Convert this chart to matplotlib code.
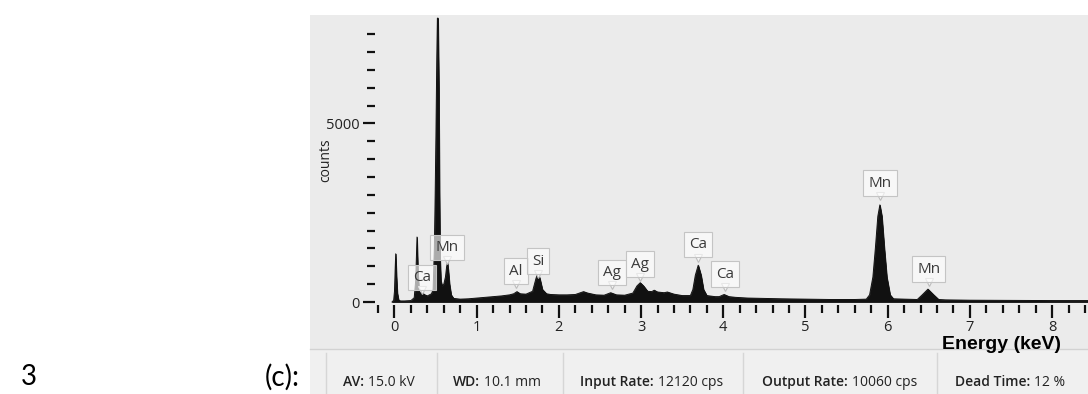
import matplotlib
matplotlib.use("Agg")
import matplotlib.pyplot as plt
from matplotlib.patches import Rectangle
from matplotlib.transforms import offset_copy
import numpy as np

# 스펙트럼 (에너지 keV, counts) - 그림에서 읽은 값
energy = [-0.03, -0.01, 0.0, 0.008, 0.015, 0.025, 0.035, 0.05, 0.07, 0.12, 0.2,
          0.24, 0.258, 0.274, 0.286, 0.3, 0.32, 0.34, 0.37, 0.4, 0.45, 0.47,
          0.485, 0.495, 0.505, 0.515, 0.522, 0.53, 0.54, 0.548, 0.555, 0.565, 0.58,
          0.6, 0.62, 0.635, 0.645, 0.655, 0.67, 0.69, 0.72, 0.8, 0.9, 1.0, 1.1,
          1.2, 1.3, 1.4, 1.45, 1.49, 1.53, 1.6, 1.68, 1.72, 1.745, 1.77, 1.8,
          1.85, 1.9, 2.0, 2.1, 2.2, 2.3, 2.35, 2.45, 2.55, 2.63, 2.7, 2.8, 2.9,
          2.95, 2.99, 3.03, 3.08, 3.13, 3.16, 3.2, 3.28, 3.32, 3.4, 3.5, 3.6,
          3.63, 3.66, 3.695, 3.73, 3.76, 3.8, 3.9, 3.95, 4.01, 4.07, 4.15, 4.3,
          4.5, 4.7, 5.0, 5.3, 5.6, 5.74, 5.78, 5.82, 5.85, 5.88, 5.905, 5.93,
          5.96, 5.99, 6.03, 6.07, 6.2, 6.36, 6.42, 6.49, 6.56, 6.62, 6.7, 7.0,
          7.5, 8.0, 8.44]
counts = [0, 50, 300, 900, 1350, 700, 250, 60, 30, 30, 40,
          120, 600, 1820, 800, 300, 230, 250, 200, 170, 230, 350,
          1500, 3000, 4800, 6900, 7950, 7950, 6000, 3000, 1200, 600, 450,
          500, 700, 1000, 1100, 900, 500, 200, 100, 80, 90, 110, 130,
          150, 170, 200, 230, 290, 230, 220, 300, 650, 820, 650, 350,
          230, 210, 200, 200, 210, 290, 250, 200, 190, 260, 200, 190, 250,
          450, 540, 450, 300, 290, 330, 280, 260, 280, 220, 180, 180,
          350, 750, 1030, 750, 350, 180, 150, 150, 210, 150, 130, 110,
          100, 90, 80, 70, 70, 80, 200, 700, 1500, 2400, 2720, 2400,
          1500, 700, 200, 90, 80, 70, 200, 360, 200, 70, 60, 50,
          45, 40, 40]

# 피크 라벨: 원소, 에너지, 화살표 끝 높이(counts)
peak_names = ["Ca", "Mn", "Al", "Si", "Ag", "Ag", "Ca", "Ca", "Mn", "Mn"]
peak_energy = [0.335, 0.64, 1.48, 1.745, 2.65, 2.99, 3.69, 4.02, 5.906, 6.50]
peak_tip = [250, 1090, 420, 700, 390, 616, 1150, 336, 2885, 476]

status_labels = ["AV:", "WD:", "Input Rate:", "Output Rate:", "Dead Time:"]
status_values = ["15.0 kV", "10.1 mm", "12120 cps", "10060 cps", "12 %"]

W, H = 1088, 394
fig = plt.figure(figsize=(W / 100, H / 100), dpi=100)
fig.patch.set_facecolor("white")
UI = ["Open Sans", "DejaVu Sans"]

# 회색 패널 + 상태바
fig.add_artist(Rectangle((310 / W, (H - 349) / H), (W - 310) / W, 334 / H,
                         transform=fig.transFigure, fc="#ebebeb", ec="none", zorder=0))
fig.add_artist(Rectangle((310 / W, 0), (W - 310) / W, (H - 349) / H,
                         transform=fig.transFigure, fc="#f0f0f0", ec="none", zorder=0))
fig.add_artist(plt.Line2D([310 / W, 1], [(H - 349) / H] * 2, transform=fig.transFigure,
                          color="#d2d2d2", lw=1, zorder=1))

ax = fig.add_axes([375 / W, (H - 305) / H, (W - 375) / W, 290 / H])
ax.set_facecolor("none")
ax.fill_between(energy, counts, 0, color="#111111", lw=0.6, zorder=2)
ax.plot(energy, counts, color="#111111", lw=0.7, zorder=2)
ax.set_xlim(-0.237, 8.437)
ax.set_ylim(-84, 8039)
for s in ax.spines.values():
    s.set_visible(False)

ax.set_xticks(range(0, 9))
ax.set_xticks(np.round(np.arange(-0.2, 8.41, 0.2), 1), minor=True)
ax.set_yticks([0, 5000])
ax.set_yticks(range(500, 8000, 500), minor=True)
ax.tick_params(which="both", direction="out", color="#111111", width=1.6,
               labelsize=10.5, labelcolor="#222222")
ax.tick_params(which="major", length=9)
ax.tick_params(which="minor", length=6)
ax.tick_params(axis="x", pad=2)
ax.tick_params(axis="y", pad=2)
for lab in ax.get_xticklabels() + ax.get_yticklabels():
    lab.set_family(UI)
ax.set_ylabel("counts", family=UI, fontsize=10, color="#222222")
ax.yaxis.set_label_coords(-0.059, 0.5)

tip_tr = offset_copy(ax.transData, fig=fig, x=0, y=3, units="dots")
for name, e, tip in zip(peak_names, peak_energy, peak_tip):
    ax.plot(e, tip, marker="v", ms=6, mfc="#f5f5f5", mec="#bdbdbd", mew=0.8,
            transform=tip_tr, zorder=4, clip_on=False)
    ax.annotate(name, xy=(e, tip), xytext=(0, 16), textcoords="offset pixels",
                ha="center", va="center", fontsize=11, family=UI, color="#3a3a3a",
                bbox=dict(boxstyle="square,pad=0.33", fc=(1, 1, 1, 0.65),
                          ec="#c4c4c4", lw=0.8), zorder=5)

fig.text(1002 / W, 1 - 349 / H, "Energy (keV)", ha="center", va="baseline",
         fontsize=14, fontweight="bold", family=["Liberation Sans", "DejaVu Sans"])

# 상태바 텍스트
seps = [326, 437, 563, 743, 937]
starts = [343, 453, 580, 762, 955]
for x in seps:
    fig.add_artist(plt.Line2D([x / W] * 2, [0, (H - 353) / H], transform=fig.transFigure,
                              color="#d6d6d6", lw=1, zorder=1))
renderer = fig.canvas.get_renderer()
for x0, lab, val in zip(starts, status_labels, status_values):
    t = fig.text(x0 / W, 1 - 382 / H, lab, ha="left", va="center", fontsize=10,
                 fontweight="semibold", family=UI, color="#222222")
    bb = t.get_window_extent(renderer)
    fig.text((bb.x1 + 4) / W, 1 - 382 / H, val, ha="left", va="center", fontsize=10,
             family=UI, color="#222222")

fig.text(29 / W, 1 - 377 / H, "3", ha="center", va="center", fontsize=20,
         family=["Lato", "DejaVu Sans"])
fig.text(282 / W, 1 - 377 / H, "(c):", ha="center", va="center", fontsize=20,
         family=["Lato", "DejaVu Sans"])

fig.savefig("out.png", dpi=100)
